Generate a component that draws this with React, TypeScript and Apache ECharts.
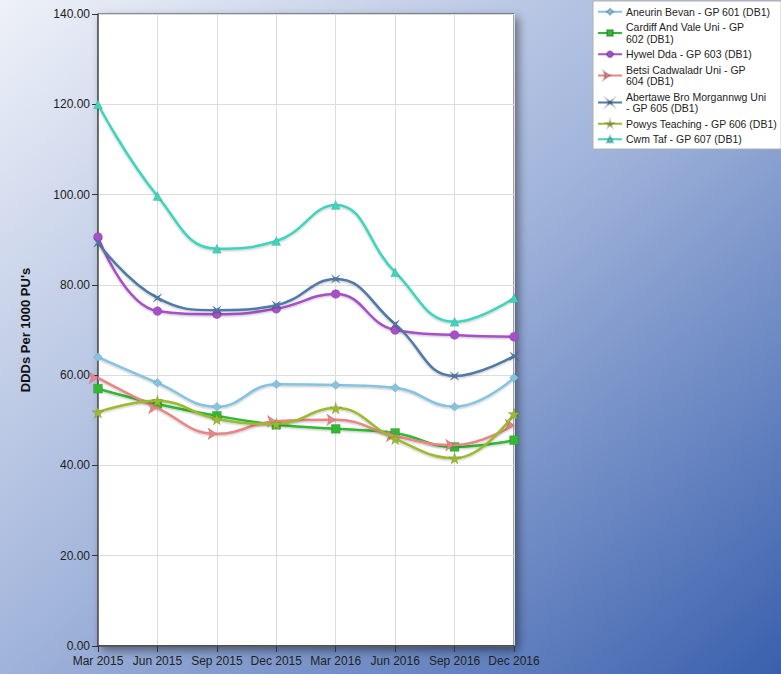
import React, { useEffect, useRef } from "react";
import * as echarts from "echarts";

const categories = ["Mar 2015", "Jun 2015", "Sep 2015", "Dec 2015", "Mar 2016", "Jun 2016", "Sep 2016", "Dec 2016"];

const seriesNames = [
  "Aneurin Bevan - GP 601 (DB1)",
  "Cardiff And Vale Uni - GP\n602 (DB1)",
  "Hywel Dda - GP 603 (DB1)",
  "Betsi Cadwaladr Uni - GP\n604 (DB1)",
  "Abertawe Bro Morgannwg Uni\n- GP 605 (DB1)",
  "Powys Teaching - GP 606 (DB1)",
  "Cwm Taf - GP 607 (DB1)",
];

const aneurin = [64.0, 58.3, 53.0, 58.0, 57.8, 57.2, 53.0, 59.4];
const cardiff = [57.0, 53.6, 51.0, 49.0, 48.1, 47.2, 44.1, 45.6];
const hywel = [90.6, 74.2, 73.5, 74.7, 78.0, 70.0, 68.9, 68.5];
const betsi = [59.4, 52.7, 47.0, 49.8, 50.1, 46.5, 44.5, 49.0];
const abertawe = [89.3, 77.1, 74.4, 75.5, 81.3, 71.3, 59.8, 64.2];
const powys = [51.8, 54.3, 50.3, 49.2, 52.7, 45.9, 41.6, 51.4];
const cwmTaf = [120.0, 99.7, 88.0, 89.7, 97.7, 82.8, 71.8, 77.1];

const seriesData = [aneurin, cardiff, hywel, betsi, abertawe, powys, cwmTaf];
const colors = ["#86c3e0", "#33b833", "#a650c8", "#e88585", "#4f79a6", "#9cba2e", "#40d4bc"];
const symbols = [
  "diamond",
  "rect",
  "circle",
  "arrow",
  "path://M0,0 L35,50 L0,100 L50,65 L100,100 L65,50 L100,0 L50,35 Z",
  "path://M50,0 L61,35 L98,35 L68,57 L79,91 L50,70 L21,91 L32,57 L2,35 L39,35 Z",
  "triangle",
];
const symbolRotates = [0, 0, 0, -90, 0, 0, 0];

const FONT = "'Liberation Sans', Arial, sans-serif";

export default function App() {
  const ref = useRef<HTMLDivElement>(null);
  useEffect(() => {
    const chart = echarts.init(ref.current!, null, { renderer: "svg" });
    chart.setOption({
      animation: false,
      backgroundColor: new echarts.graphic.LinearGradient(0, 0, 1, 1, [
        { offset: 0, color: "#eef1f8" },
        { offset: 0.5, color: "#a0b3da" },
        { offset: 1, color: "#3a60ad" },
      ]),
      grid: {
        left: 98,
        right: 267,
        top: 14,
        bottom: 28,
        show: true,
        backgroundColor: "#ffffff",
        borderColor: "#444",
        borderWidth: 1,
        shadowBlur: 10,
        shadowColor: "rgba(0,0,0,0.45)",
        shadowOffsetX: 4,
        shadowOffsetY: 4,
      },
      legend: {
        orient: "vertical",
        left: 593,
        top: 1,
        padding: [5, 4, 4, 4],
        itemGap: 4,
        itemWidth: 24,
        itemHeight: 8,
        backgroundColor: "#ffffff",
        borderColor: "#b0b0b0",
        borderWidth: 1,
        textStyle: { fontFamily: FONT, fontSize: 10.5, color: "#222", lineHeight: 11.5, padding: [0, 0, 0, -1] },
        data: seriesNames,
      },
      xAxis: {
        type: "category",
        data: categories,
        boundaryGap: false,
        axisLine: { lineStyle: { color: "#333", width: 1.5 } },
        axisTick: { show: true, length: 6, lineStyle: { color: "#333" } },
        axisLabel: { fontFamily: FONT, fontSize: 12, color: "#222", margin: 9, interval: 0 },
        splitLine: { show: true, lineStyle: { color: "#dcdcdc" } },
      },
      yAxis: {
        type: "value",
        min: 0,
        max: 140,
        interval: 20,
        name: "DDDs Per 1000 PU's",
        nameLocation: "middle",
        nameGap: 66,
        nameTextStyle: { fontFamily: FONT, fontSize: 13, fontWeight: "bold", color: "#111" },
        axisLine: { show: true, lineStyle: { color: "#555", width: 1.5 } },
        axisTick: { show: true, length: 6, lineStyle: { color: "#333" } },
        axisLabel: {
          fontFamily: FONT,
          fontSize: 12,
          color: "#222",
          margin: 8,
          formatter: (v: number) => v.toFixed(2),
        },
        splitLine: { show: true, lineStyle: { color: "#dcdcdc" } },
      },
      series: seriesData.map((d, i) => ({
        name: seriesNames[i],
        type: "line",
        data: d,
        smooth: 0.45,
        symbol: symbols[i],
        symbolRotate: symbolRotates[i],
        symbolSize: i === 5 ? 12 : 9,
        showSymbol: true,
        color: colors[i],
        lineStyle: {
          width: 2.5,
          color: colors[i],
          shadowBlur: 2,
          shadowColor: "rgba(0,0,0,0.25)",
          shadowOffsetY: 1,
        },
        itemStyle: { color: colors[i], borderColor: "rgba(0,0,0,0.2)", borderWidth: 0.5 },
        z: 2 + i,
      })),
    });
    return () => chart.dispose();
  }, []);
  return (
    <div
      ref={ref}
      style={{ position: "fixed", left: 0, top: 0, width: 781, height: 674 }}
    />
  );
}
